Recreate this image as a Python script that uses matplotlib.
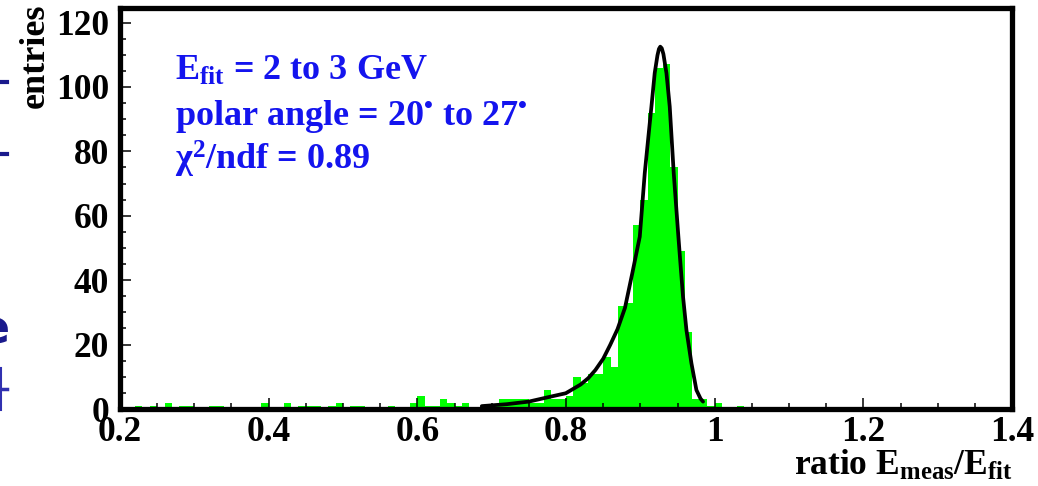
import numpy as np
import matplotlib
matplotlib.use("Agg")
from matplotlib import pyplot as plt
from matplotlib.lines import Line2D

# ratio histogram, 0.01 wide bins from 0.2 to 1.4
bin_lo = 0.2
bin_hi = 1.4
counts = [0, 0, 1, 0, 1, 0, 2, 0, 1, 1,
          0, 0, 1, 1, 0, 0, 0, 0, 0, 2,
          0, 0, 2, 0, 1, 1, 1, 0, 1, 2,
          0, 1, 1, 0, 0, 0, 1, 0, 0, 2,
          4, 1, 1, 3, 2, 1, 2, 0, 0, 1,
          1, 3, 3, 3, 3, 2, 2, 6, 3, 3,
          4, 10, 8, 11, 11, 16, 13, 32, 33, 57,
          65, 92, 106, 107, 75, 49, 24, 3, 3, 1,
          2, 0, 0, 1, 0, 0, 0, 0, 0, 0,
          0, 0, 0, 0, 0, 0, 0, 0, 0, 0,
          0, 0, 0, 0, 0, 0, 0, 0, 0, 0,
          0, 0, 0, 0, 0, 0, 0, 0, 0, 0]

# fitted curve, read point by point
fit_x = [0.6867, 0.7203, 0.7499, 0.7803, 0.7997, 0.8196, 0.8300, 0.8395,
         0.8500, 0.8594, 0.8693, 0.8793, 0.8892, 0.8992, 0.9059, 0.9110,
         0.9149, 0.9193, 0.9230, 0.9250, 0.9268, 0.9288, 0.9310, 0.9351,
         0.9395, 0.9449, 0.9510, 0.9539, 0.9574, 0.9620, 0.9687, 0.9754,
         0.9810, 0.9843]
fit_y = [0.9, 1.5, 2.3, 3.9, 4.9, 7.6, 9.6, 12.1,
         15.6, 19.9, 24.8, 31.4, 42.2, 53.5, 73.2, 85.0,
         93.9, 104.3, 109.8, 111.8, 112.5, 112.0, 110.2, 104.3,
         93.9, 73.2, 54.0, 45.2, 34.9, 24.5, 14.2, 5.9,
         3.2, 2.3]

xticks = [0.2, 0.4, 0.6, 0.8, 1.0, 1.2, 1.4]
xtick_labels = ["0.2", "0.4", "0.6", "0.8", "1", "1.2", "1.4"]
yticks = [0, 20, 40, 60, 80, 100, 120]
ytick_labels = ["0", "20", "40", "60", "80", "100", "120"]

info_lines = [r"$\mathregular{E_{fit}}$ = 2 to 3 GeV",
              "polar angle = 20$^{\u2022}$ to 27$^{\u2022}$",
              r"$\mathregular{\chi^{2}}$/ndf = 0.89"]

plt.rcParams["font.family"] = ["Liberation Serif", "DejaVu Serif"]
plt.rcParams["font.weight"] = "bold"
plt.rcParams["mathtext.fontset"] = "custom"
plt.rcParams["mathtext.rm"] = "Liberation Serif:bold"
plt.rcParams["mathtext.it"] = "Liberation Serif:bold"
plt.rcParams["mathtext.bf"] = "Liberation Serif:bold"

fig = plt.figure(figsize=(10.38, 4.86), dpi=100)
ax = fig.add_axes([0.1156, 0.1584, 0.975 - 0.1156, 0.9835 - 0.1584])

edges = np.linspace(bin_lo, bin_hi, len(counts) + 1)
ax.stairs(counts, edges, fill=True, color="#00ff00", linewidth=0)
ax.plot(fit_x, fit_y, color="black", linewidth=2.7, solid_capstyle="round",
        solid_joinstyle="round")

ax.set_xlim(bin_lo, bin_hi)
ax.set_ylim(0, 124.5)

ax.set_xticks(xticks)
ax.set_xticklabels(xtick_labels)
ax.set_yticks(yticks)
ax.set_yticklabels(ytick_labels)
ax.set_xticks(np.arange(0.2, 1.41, 0.05), minor=True)
ax.set_yticks(np.arange(0, 121, 5), minor=True)
ax.tick_params(which="major", direction="in", length=8, width=1.1,
               labelsize=25.5, pad=5)
ax.tick_params(which="minor", direction="in", length=4.5, width=1.1)
ax.tick_params(axis="y", pad=8)
for lab in ax.get_xticklabels() + ax.get_yticklabels():
    lab.set_fontweight("bold")

for side in ax.spines.values():
    side.set_linewidth(3.8)

# axis titles
fig.text(1013 / 1038, 1 - 475 / 486,
         r"ratio $\mathregular{E_{meas}/E_{fit}}$",
         ha="right", va="baseline", fontsize=25.5, fontweight="bold")
fig.text(35 / 1038, 1 - 4 / 486, "entries", rotation=90,
         ha="center", va="top", fontsize=26, fontweight="bold")

# fit info
for k, line in enumerate(info_lines):
    fig.text(175 / 1038, 1 - (80 + 45 * k) / 486, line, ha="left",
             va="baseline", fontsize=26, fontweight="bold", color="#1414ee")

# pieces of the neighbouring slide cut off at the left edge
navy = "#1a1a8c"
fig.add_artist(Line2D([0, 7 / 1038], [1 - 82 / 486] * 2, color=navy, lw=3))
fig.add_artist(Line2D([0, 7 / 1038], [1 - 154 / 486] * 2, color=navy, lw=3))
fig.text(-21 / 1038, 1 - 343 / 486, "e", fontsize=33, fontweight="bold",
         family="DejaVu Sans", color=navy, ha="left", va="baseline")
fig.add_artist(Line2D([1 / 1038] * 2, [1 - 368 / 486, 1 - 410 / 486],
                      color="#3030b0", lw=1.5))
fig.add_artist(Line2D([0, 7 / 1038], [1 - 389 / 486] * 2, color="#3030b0",
                      lw=2.5))

fig.savefig("out.png", dpi=100)
